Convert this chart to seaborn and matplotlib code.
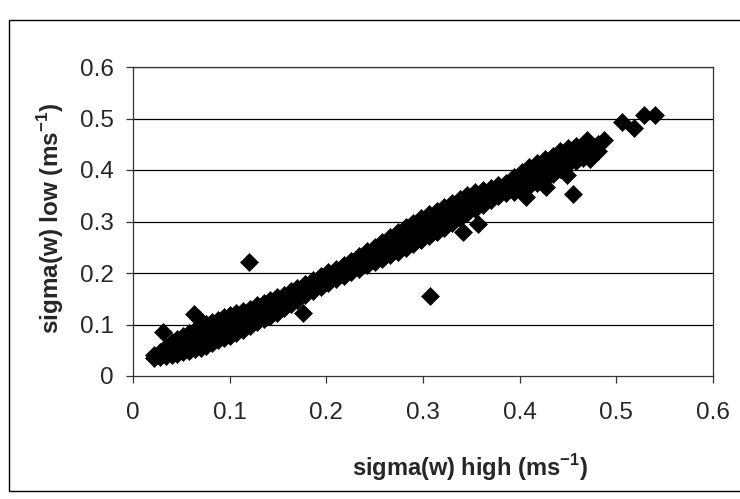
import matplotlib
matplotlib.use("Agg")
import matplotlib.pyplot as plt
import seaborn as sns
import pandas as pd
from matplotlib.patches import Rectangle

# ---- data ----
sigma_high = [
    0.022, 0.022,
    0.028, 0.028,
    0.034, 0.034, 0.034,
    0.040, 0.040, 0.040,
    0.046, 0.046, 0.046,
    0.052, 0.052, 0.052,
    0.058, 0.058, 0.058,
    0.064, 0.064, 0.064,
    0.070, 0.070, 0.070,
    0.076, 0.076, 0.076,
    0.082, 0.082, 0.082,
    0.088, 0.088, 0.088,
    0.094, 0.094, 0.094,
    0.100, 0.100, 0.100,
    0.107, 0.107, 0.107,
    0.114, 0.114, 0.114,
    0.121, 0.121, 0.121,
    0.128, 0.128, 0.128,
    0.135, 0.135, 0.135,
    0.142, 0.142, 0.142,
    0.149, 0.149, 0.149,
    0.156, 0.156, 0.156,
    0.163, 0.163, 0.163,
    0.170, 0.170, 0.170,
    0.178, 0.178,
    0.186, 0.186,
    0.194, 0.194,
    0.202, 0.202,
    0.210, 0.210,
    0.218, 0.218,
    0.226, 0.226,
    0.234, 0.234,
    0.242, 0.242, 0.242,
    0.250, 0.250, 0.250,
    0.258, 0.258, 0.258,
    0.266, 0.266, 0.266,
    0.274, 0.274, 0.274,
    0.282, 0.282, 0.282,
    0.290, 0.290, 0.290,
    0.298, 0.298, 0.298,
    0.306, 0.306, 0.306,
    0.314, 0.314, 0.314,
    0.322, 0.322, 0.322,
    0.330, 0.330, 0.330,
    0.338, 0.338, 0.338,
    0.346, 0.346, 0.346,
    0.354, 0.354, 0.354,
    0.362, 0.362, 0.362,
    0.370, 0.370, 0.370,
    0.378, 0.378, 0.378,
    0.386, 0.386,
    0.394, 0.394, 0.394,
    0.402, 0.402, 0.402,
    0.410, 0.410, 0.410,
    0.418, 0.418, 0.418,
    0.426, 0.426, 0.426,
    0.434, 0.434, 0.434,
    0.442, 0.442, 0.442,
    0.450, 0.450, 0.450,
    0.458, 0.458, 0.458,
    0.466, 0.466, 0.466,
    0.474, 0.474,
    0.481, 0.481,
    # scattered points
    0.031, 0.063, 0.067, 0.120, 0.176, 0.307, 0.341, 0.357,
    0.407, 0.427, 0.449, 0.455, 0.473, 0.470, 0.487,
    0.506, 0.518, 0.529, 0.540,
]

sigma_low = [
    0.035, 0.040,
    0.036, 0.047,
    0.038, 0.049, 0.056,
    0.040, 0.052, 0.066,
    0.043, 0.057, 0.072,
    0.046, 0.061, 0.078,
    0.048, 0.064, 0.083,
    0.052, 0.069, 0.090,
    0.055, 0.074, 0.095,
    0.058, 0.081, 0.101,
    0.064, 0.086, 0.105,
    0.069, 0.090, 0.109,
    0.073, 0.095, 0.114,
    0.078, 0.098, 0.118,
    0.084, 0.103, 0.122,
    0.090, 0.110, 0.127,
    0.097, 0.114, 0.131,
    0.104, 0.121, 0.137,
    0.110, 0.127, 0.142,
    0.117, 0.133, 0.148,
    0.123, 0.139, 0.153,
    0.132, 0.146, 0.158,
    0.140, 0.152, 0.165,
    0.148, 0.160, 0.171,
    0.157, 0.178,
    0.165, 0.186,
    0.173, 0.194,
    0.181, 0.201,
    0.188, 0.208,
    0.194, 0.215,
    0.201, 0.224,
    0.208, 0.233,
    0.215, 0.229, 0.243,
    0.222, 0.237, 0.251,
    0.228, 0.244, 0.260,
    0.234, 0.252, 0.270,
    0.241, 0.260, 0.280,
    0.248, 0.269, 0.290,
    0.256, 0.277, 0.298,
    0.264, 0.285, 0.306,
    0.271, 0.293, 0.314,
    0.279, 0.300, 0.321,
    0.288, 0.308, 0.328,
    0.298, 0.317, 0.336,
    0.307, 0.325, 0.344,
    0.316, 0.334, 0.351,
    0.324, 0.341, 0.357,
    0.333, 0.347, 0.362,
    0.341, 0.354, 0.366,
    0.349, 0.360, 0.370,
    0.355, 0.374,
    0.358, 0.372, 0.386,
    0.363, 0.380, 0.396,
    0.369, 0.388, 0.405,
    0.375, 0.395, 0.414,
    0.383, 0.403, 0.421,
    0.393, 0.411, 0.428,
    0.402, 0.418, 0.436,
    0.411, 0.427, 0.443,
    0.418, 0.432, 0.446,
    0.423, 0.437, 0.449,
    0.430, 0.446,
    0.437, 0.450,
    # scattered points
    0.086, 0.121, 0.112, 0.221, 0.122, 0.155, 0.279, 0.296,
    0.347, 0.367, 0.390, 0.353, 0.421, 0.458, 0.458,
    0.494, 0.482, 0.506, 0.506,
]

tick_values = [0, 0.1, 0.2, 0.3, 0.4, 0.5, 0.6]
tick_labels = ["0", "0.1", "0.2", "0.3", "0.4", "0.5", "0.6"]
x_label = "sigma(w) high (ms$^{-1}$)"
y_label = "sigma(w) low (ms$^{-1}$)"

df = pd.DataFrame({"high": sigma_high, "low": sigma_low})

# ---- figure ----
sns.set_style("white")
plt.rcParams["font.family"] = ["Liberation Sans", "DejaVu Sans"]
plt.rcParams["mathtext.fontset"] = "custom"
plt.rcParams["mathtext.rm"] = "Liberation Sans:bold"
plt.rcParams["mathtext.bf"] = "Liberation Sans:bold"

fig = plt.figure(figsize=(7.40, 4.99), dpi=100)
ax = fig.add_axes([133 / 740, 1 - 376 / 499, 580 / 740, 309 / 499])

sns.scatterplot(data=df, x="high", y="low", ax=ax, marker="D", color="black",
                s=85, edgecolor="black", linewidth=0.4, legend=False, zorder=3)

ax.set_xlim(0, 0.6)
ax.set_ylim(0, 0.6)
ax.set_xticks(tick_values)
ax.set_xticklabels(tick_labels)
ax.set_yticks(tick_values)
ax.set_yticklabels(tick_labels)

for v in tick_values[1:]:
    ax.axhline(v, color="black", linewidth=0.9, zorder=1)

for sp in ax.spines.values():
    sp.set_visible(True)
    sp.set_color("#333333")
    sp.set_linewidth(0.9)

ax.tick_params(axis="x", direction="out", length=5, width=0.9, color="#333333",
               pad=14, labelsize=17.5, bottom=True)
ax.tick_params(axis="y", direction="out", length=5, width=0.9, color="#333333",
               pad=9, labelsize=17.5, left=True)

ax.set_xlabel("")
ax.set_ylabel("")
fig.text(470 / 740, 1 - 468 / 499, x_label, ha="center", va="center",
         fontsize=17, fontweight="bold")
fig.text(51 / 740, 1 - 218 / 499, y_label, ha="center", va="center",
         fontsize=17.5, fontweight="bold", rotation=90)

# outer chart frame (right edge cut off in the reference)
fig.add_artist(Rectangle((9 / 740, 1 - 491 / 499), 1.2, (491 - 20) / 499,
                         transform=fig.transFigure, fill=False,
                         edgecolor="black", linewidth=1.0, clip_on=False))

fig.savefig("out.png", dpi=100)
